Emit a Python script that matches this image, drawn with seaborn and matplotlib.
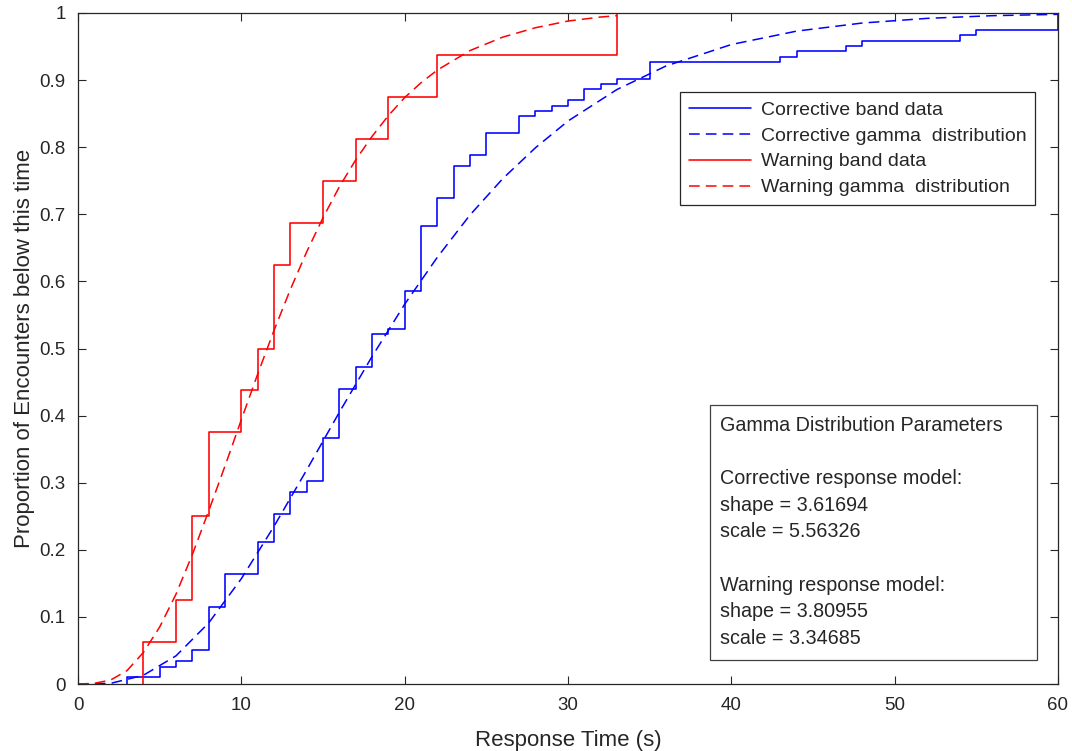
import matplotlib
matplotlib.use("Agg")
import matplotlib.pyplot as plt
import matplotlib.patches as mpatches
import seaborn as sns
import pandas as pd

BLUE = "#0000FF"
RED = "#FF0000"
AXIS_GRAY = "#262626"

corrective_times = [3, 3, 5, 6, 7, 8, 9, 11, 12, 13, 14, 15, 16, 17, 18, 19, 20, 21,
                    22, 23, 24, 25, 27, 28, 29, 30, 31, 32, 33, 35, 43, 44, 47, 48,
                    54, 55, 60]
corrective_props = [0.0, 0.010, 0.026, 0.035, 0.051, 0.115, 0.164, 0.212, 0.253,
                    0.286, 0.303, 0.367, 0.440, 0.472, 0.521, 0.529, 0.586, 0.683,
                    0.724, 0.772, 0.789, 0.821, 0.846, 0.854, 0.862, 0.870, 0.886,
                    0.894, 0.902, 0.927, 0.935, 0.943, 0.951, 0.959, 0.967, 0.975,
                    1.0]

warning_times = [4, 4, 6, 7, 8, 10, 11, 12, 13, 15, 17, 19, 22, 33]
warning_props = [0.0, 0.0625, 0.125, 0.25, 0.375, 0.4375, 0.5, 0.625, 0.6875,
                 0.75, 0.8125, 0.875, 0.9375, 1.0]

# fitted gamma CDF curves, sampled off the chart
corrective_fit_t = [0, 2, 4, 6, 8, 10, 12, 14, 16, 18, 20, 22, 24, 26, 28, 30, 33,
                    36, 40, 44, 48, 52, 56, 60]
corrective_fit_p = [0.0, 0.001, 0.013, 0.042, 0.091, 0.157, 0.235, 0.319, 0.405,
                    0.488, 0.566, 0.636, 0.699, 0.753, 0.799, 0.839, 0.886, 0.921,
                    0.953, 0.973, 0.985, 0.992, 0.996, 0.998]

warning_fit_t = [0, 1, 2, 3, 4, 5, 6, 7, 8, 9, 10, 11, 12, 13, 14, 15, 16, 17, 18,
                 19, 20, 21, 22, 24, 26, 28, 30, 32, 33]
warning_fit_p = [0.0, 0.001, 0.006, 0.020, 0.047, 0.085, 0.134, 0.193, 0.258,
                 0.325, 0.394, 0.462, 0.527, 0.588, 0.644, 0.695, 0.741, 0.781,
                 0.816, 0.847, 0.874, 0.896, 0.915, 0.944, 0.964, 0.978, 0.988,
                 0.994, 0.996]

x_ticks = [0, 10, 20, 30, 40, 50, 60]
y_ticks = [0, 0.1, 0.2, 0.3, 0.4, 0.5, 0.6, 0.7, 0.8, 0.9, 1.0]
y_tick_labels = ["0", "0.1", "0.2", "0.3", "0.4", "0.5", "0.6", "0.7", "0.8", "0.9", "1"]

param_text = ("Gamma Distribution Parameters\n\n"
              "Corrective response model:\n"
              "shape = 3.61694\n"
              "scale = 5.56326\n\n"
              "Warning response model:\n"
              "shape = 3.80955\n"
              "scale = 3.34685")

sns.set_style("white")
plt.rcParams["font.family"] = ["Liberation Sans", "DejaVu Sans"]

fig, ax = plt.subplots(figsize=(10.72, 7.51), dpi=100)
fig.subplots_adjust(left=0.0728, right=0.9869, bottom=0.0892, top=0.9827)

dash = (0, (7, 4))
sns.lineplot(x=corrective_times, y=corrective_props, ax=ax, color=BLUE, lw=1.15,
             estimator=None, drawstyle="steps-post", label="Corrective band data")
sns.lineplot(x=corrective_fit_t, y=corrective_fit_p, ax=ax, color=BLUE, lw=1.1,
             estimator=None, linestyle=dash, label="Corrective gamma  distribution")
sns.lineplot(x=warning_times, y=warning_props, ax=ax, color=RED, lw=1.15,
             estimator=None, drawstyle="steps-post", label="Warning band data")
sns.lineplot(x=warning_fit_t, y=warning_fit_p, ax=ax, color=RED, lw=1.1,
             estimator=None, linestyle=dash, label="Warning gamma  distribution")

ax.set_xlim(0, 60)
ax.set_ylim(0, 1)
ax.set_xticks(x_ticks)
ax.set_yticks(y_ticks)
ax.set_yticklabels(y_tick_labels)
ax.tick_params(direction="in", length=6, width=0.8, top=True, right=True,
               bottom=True, left=True, colors=AXIS_GRAY, labelsize=13.5, pad=9)
for side in ax.spines.values():
    side.set_color(AXIS_GRAY)
    side.set_linewidth(0.9)

ax.set_xlabel("Response Time (s)", fontsize=16, color=AXIS_GRAY, labelpad=12)
ax.set_ylabel("Proportion of Encounters below this time", fontsize=16,
              color=AXIS_GRAY, labelpad=3)

leg = ax.legend(loc="upper right", bbox_to_anchor=(0.9765, 0.882), borderaxespad=0,
                fontsize=14, frameon=True, fancybox=False, framealpha=1,
                edgecolor=AXIS_GRAY, handlelength=3.2, handletextpad=0.5,
                labelspacing=0.43, borderpad=0.45)
leg.get_frame().set_linewidth(0.9)
for t in leg.get_texts():
    t.set_color(AXIS_GRAY)

# parameter annotation box
box = mpatches.Rectangle((0.645, 0.036), 0.334, 0.380, transform=ax.transAxes,
                         facecolor="white", edgecolor="#404040", linewidth=0.9,
                         zorder=5)
ax.add_patch(box)
ax.text(0.655, 0.400, param_text, transform=ax.transAxes, ha="left", va="top",
        fontsize=14.2, color=AXIS_GRAY, linespacing=1.51, zorder=6)

fig.savefig("out.png", dpi=100)
plt.close(fig)
